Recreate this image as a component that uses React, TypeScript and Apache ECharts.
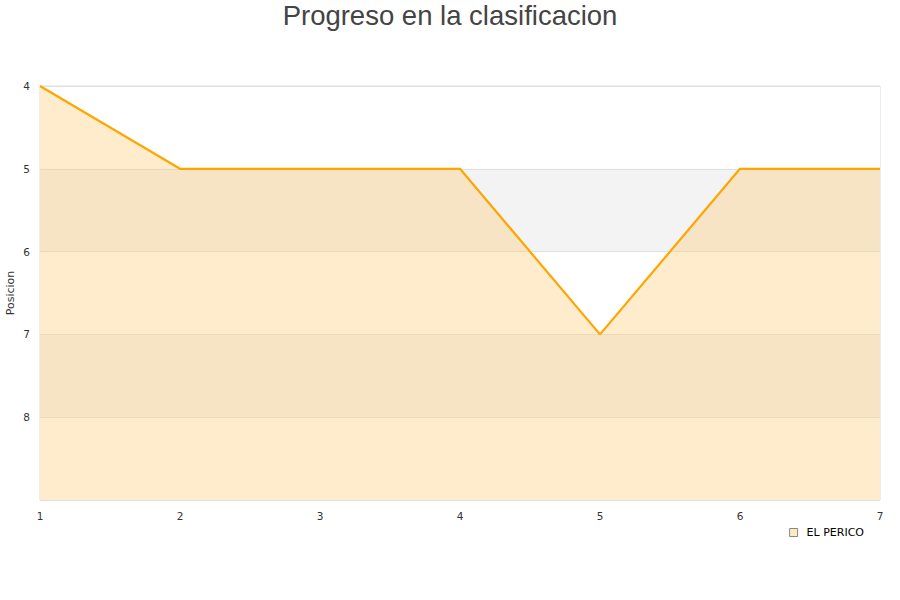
import React, { useEffect, useRef } from "react";
import * as echarts from "echarts";

const jornadas = ["1", "2", "3", "4", "5", "6", "7"];
const posiciones = [4, 5, 5, 5, 7, 5, 5];
const equipo = "EL PERICO";
const titulo = "Progreso en la clasificacion";

export default function App() {
  const ref = useRef<HTMLDivElement>(null);
  useEffect(() => {
    if (!ref.current) return;
    const chart = echarts.init(ref.current, undefined, { renderer: "svg" });
    chart.setOption({
      animation: false,
      title: {
        text: titulo,
        left: "center",
        top: 1,
        padding: 0,
        textStyle: {
          fontFamily: "Liberation Sans, Arial, sans-serif",
          fontSize: 27.5,
          fontWeight: "normal",
          color: "#444",
        },
      },
      grid: {
        left: 40,
        right: 20,
        top: 86,
        bottom: 100,
        outerBoundsMode: "none",
        containLabel: false,
        show: true,
        borderColor: "#dcdcdc",
        borderWidth: 1,
        backgroundColor: "transparent",
      },
      legend: {
        data: [
          {
            name: equipo,
            icon: "rect",
            itemStyle: { color: "#ffe9bf", borderColor: "#888", borderWidth: 1 },
          },
        ],
        right: 36,
        top: 527,
        padding: 0,
        itemWidth: 8,
        itemHeight: 8,
        itemGap: 6,
        textStyle: {
          fontFamily: "DejaVu Sans, sans-serif",
          fontSize: 11,
          color: "#000",
          padding: [0, 0, 0, 4],
        },
      },
      xAxis: {
        type: "category",
        data: jornadas,
        boundaryGap: false,
        axisLine: { show: false },
        axisTick: { show: false },
        splitLine: { show: false },
        axisLabel: {
          fontFamily: "DejaVu Sans, sans-serif",
          fontSize: 10.5,
          color: "#333",
          margin: 10,
        },
      },
      yAxis: {
        type: "value",
        inverse: true,
        min: 4,
        max: 9,
        interval: 1,
        name: "Posicion",
        nameLocation: "middle",
        nameGap: 24,
        nameMoveOverlap: false,
        nameRotate: 90,
        nameTextStyle: {
          fontFamily: "DejaVu Sans, sans-serif",
          fontSize: 11,
          color: "#333",
        },
        axisLine: { show: false },
        axisTick: { show: false },
        axisLabel: {
          fontFamily: "DejaVu Sans, sans-serif",
          fontSize: 10.5,
          color: "#333",
          margin: 10,
          formatter: (v: number) => (v === 9 ? "" : String(v)),
        },
        splitLine: { show: true, lineStyle: { color: "#e0e0e0", width: 1 } },
        splitArea: {
          show: true,
          areaStyle: { color: ["#ffffff", "#f3f3f3"] },
        },
      },
      series: [
        {
          name: equipo,
          type: "line",
          data: posiciones,
          symbol: "none",
          lineStyle: { color: "#ffa500", width: 2.2 },
          itemStyle: { color: "#ffa500" },
          areaStyle: { color: "rgba(255,205,121,0.38)", opacity: 1, origin: "end" },
        },
      ],
    });
    return () => chart.dispose();
  }, []);
  return (
    <div
      ref={ref}
      style={{ position: "absolute", left: 0, top: 0, width: 900, height: 600 }}
    />
  );
}
